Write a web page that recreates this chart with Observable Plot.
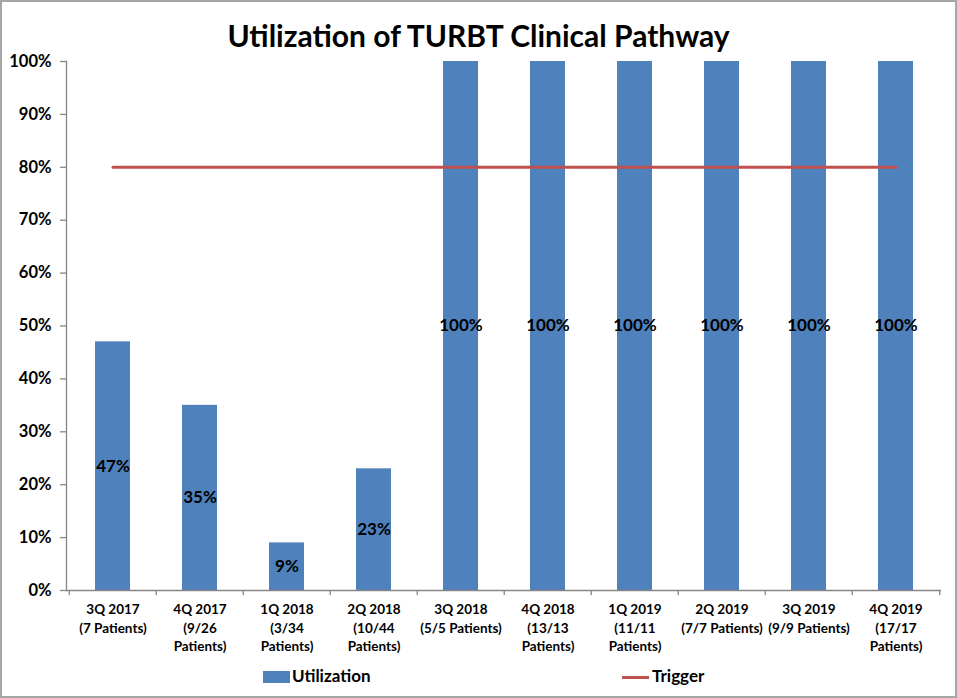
<!DOCTYPE html>
<html>
<head>
<meta charset="utf-8">
<script src="https://cdn.jsdelivr.net/npm/d3@7"></script>
<script src="https://cdn.jsdelivr.net/npm/@observablehq/plot@0.6"></script>
<style>
  html, body { margin: 0; padding: 0; background: #fff; }
  #wrap { position: relative; width: 953px; height: 694px; border: 2px solid #a6a6a6; font-family: Lato, "Open Sans", sans-serif; overflow: hidden; }
  #title { position: absolute; left: 0; width: 953px; top: 15px; text-align: center; font-size: 30px; font-weight: bold; color: #000; }
  #chart { position: absolute; left: -2px; top: 43px; width: 957px; }
  #chart svg { max-width: none; }
  .leg { position: absolute; font-size: 17px; font-weight: bold; color: #000; }
</style>
</head>
<body>
<div id="wrap">
  <div id="title">Utilization of TURBT Clinical Pathway</div>
  <div id="chart"></div>
  <div class="leg" style="left:261px; top:669px; width:27px; height:12px; background:#4F81BD;"></div>
  <div class="leg" style="left:290px; top:663px;">Utilization</div>
  <div class="leg" style="left:620px; top:674px; width:27px; height:3px; background:#C0504D;"></div>
  <div class="leg" style="left:650px; top:663px;">Trigger</div>
</div>
<script>
const categories = [
  "3Q 2017\n(7 Patients)",
  "4Q 2017\n(9/26\nPatients)",
  "1Q 2018\n(3/34\nPatients)",
  "2Q 2018\n(10/44\nPatients)",
  "3Q 2018\n(5/5 Patients)",
  "4Q 2018\n(13/13\nPatients)",
  "1Q 2019\n(11/11\nPatients)",
  "2Q 2019\n(7/7 Patients)",
  "3Q 2019\n(9/9 Patients)",
  "4Q 2019\n(17/17\nPatients)"
];
const utilization = [0.47, 0.35, 0.09, 0.23, 1, 1, 1, 1, 1, 1];
const trigger = [0.8, 0.8, 0.8, 0.8, 0.8, 0.8, 0.8, 0.8, 0.8, 0.8];
const yTicks = [0, 0.1, 0.2, 0.3, 0.4, 0.5, 0.6, 0.7, 0.8, 0.9, 1];

const data = categories.map((c, i) => ({cat: c, u: utilization[i], t: trigger[i]}));

const W = 957, H = 615;
const mL = 66, mR = 16, mT = 16, mB = 70;
const step = (W - mL - mR) / categories.length;
const axisColor = "#868686";

const plot = Plot.plot({
  width: W, height: H,
  marginLeft: mL, marginRight: mR, marginTop: mT, marginBottom: mB,
  style: {fontFamily: "Lato, 'Open Sans', sans-serif", fontWeight: "bold", color: "#000", background: "transparent", maxWidth: "none"},
  x: {domain: categories, paddingInner: 0.6, paddingOuter: 0.3, label: null},
  y: {domain: [0, 1], label: null},
  marks: [
    Plot.barY(data, {x: "cat", y: "u", fill: "#4F81BD"}),
    Plot.line(data, {x: "cat", y: "t", stroke: "#C0504D", strokeWidth: 3}),
    Plot.text(data, {x: "cat", y: d => d.u / 2, text: d => d3.format(".0%")(d.u), fontSize: 17, fontWeight: "bold", fill: "#000"}),
    Plot.ruleY([0], {stroke: axisColor, strokeWidth: 1.3}),
    Plot.frame({anchor: "left", stroke: axisColor, strokeWidth: 1.3}),
    Plot.ruleX(categories, {x: d => d, y1: 0, y2: 0, insetBottom: -5, dx: -step / 2, stroke: axisColor, strokeWidth: 1.3}),
    Plot.ruleX(categories.slice(-1), {x: d => d, y1: 0, y2: 0, insetBottom: -5, dx: step / 2, stroke: axisColor, strokeWidth: 1.3}),
    Plot.axisY({ticks: yTicks, tickFormat: d3.format(".0%"), tickSize: 6, tickPadding: 9, fontSize: 16.5, fontWeight: "bold", stroke: axisColor, strokeWidth: 1.3, fill: "#000"}),
    Plot.axisX({tickSize: 0, tickPadding: 11, fontSize: 13.5, fontWeight: "bold", lineHeight: 1.35, fill: "#000"})
  ]
});
document.getElementById("chart").appendChild(plot);
</script>
</body>
</html>
